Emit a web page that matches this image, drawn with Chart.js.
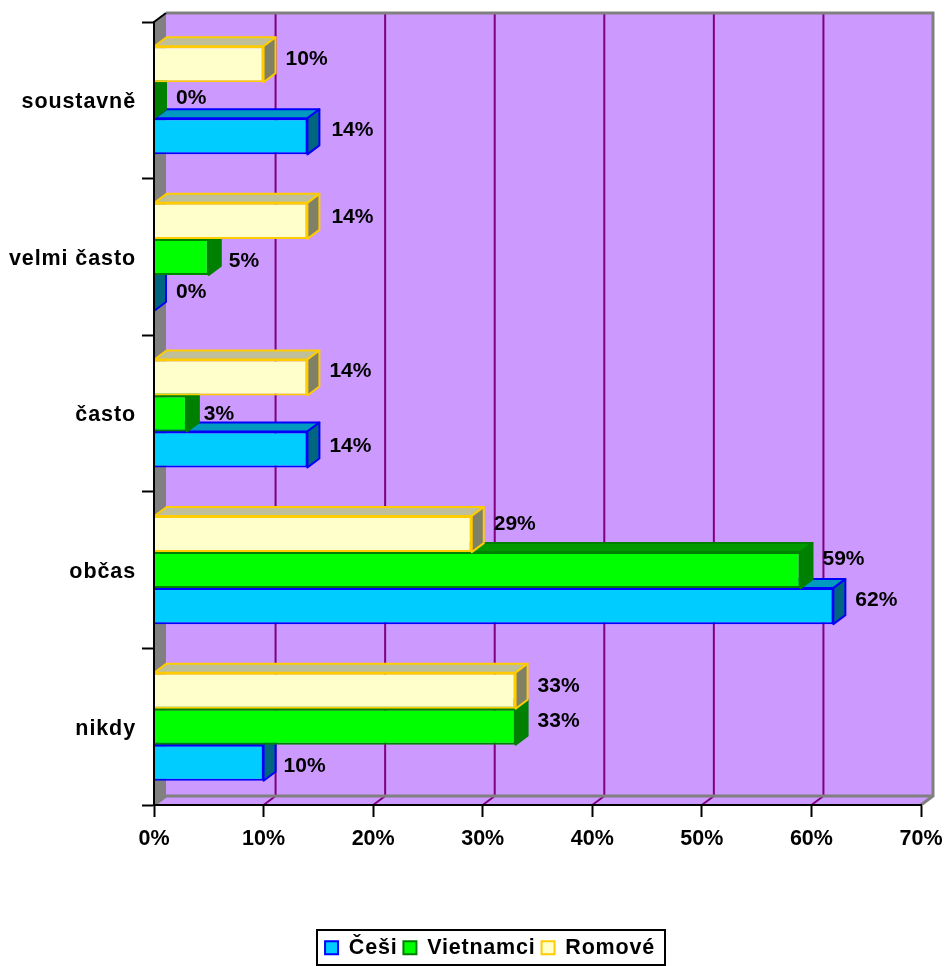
<!DOCTYPE html>
<html>
<head>
<meta charset="utf-8">
<style>
  html, body { margin: 0; padding: 0; background: #fff; overflow: hidden; }
  canvas { display: block; }
</style>
<script src="https://cdn.jsdelivr.net/npm/chart.js@4/dist/chart.umd.min.js"></script>
</head>
<body>
<canvas id="graf" width="946" height="966"></canvas>
<script>
// Data
const categories = ['soustavně', 'velmi často', 'často', 'občas', 'nikdy'];
const ceskoValues = [14, 0, 14, 62, 10];
const vietnamValues = [0, 5, 3, 59, 33];
const romoveValues = [10, 14, 14, 29, 33];
const xTicks = [0, 10, 20, 30, 40, 50, 60, 70];

// Barvy: [přední, horní, boční, okraj]
const ceskoColors = ['#00CCFF', '#0099BF', '#006680', '#0000FF'];
const vietnamColors = ['#00FF00', '#009900', '#008000', '#008000'];
const romoveColors = ['#FFFFCC', '#BFBF99', '#808066', '#FFCC00'];

// Hloubka 3D
const DX = 12;
const DY = 9;
const FONT_FAMILY = '"Liberation Sans", Arial, sans-serif';

// Ruční posun popisků: dataset -> kategorie -> [x, y]
const labelNudge = {
  Romové: [[0, -7], [2, -5], [0, -8], [0, -11], [0, -6]],
  Vietnamci: [[0, -4], [-2, 3], [-5, -1], [0, -12], [0, -7]],
  Češi: [[2, -8], [0, -2], [0, -5], [0, -7], [-2, 2]]
};

function withSpacing(obj, name, spacing, shiftY) {
  const orig = obj[name];
  obj[name] = function () {
    const ctx = this.ctx;
    ctx.save();
    ctx.letterSpacing = spacing;
    if (shiftY) ctx.translate(0, shiftY);
    const res = orig.apply(this, arguments);
    ctx.restore();
    return res;
  };
}

const chart3d = {
  id: 'chart3d',
  beforeLayout(chart) {
    if (chart.$spaced) return;
    chart.$spaced = true;
    withSpacing(chart.legend, 'fit', '0.8px');
    withSpacing(chart.legend, 'draw', '0.8px');
    withSpacing(chart.scales.y, 'drawLabels', '0.9px', 2);
  },
  afterLayout(chart) {
    // Legenda je v rámečku mimo střed grafu
    chart.legend.left = 298;
    chart.legend.right = 682;
    chart.legend.top = 931;
    chart.legend.bottom = 966;
  },
  beforeDraw(chart) {
    // Stěny a podlaha
    const { ctx, chartArea: a } = chart;
    const xs = chart.scales.x;
    ctx.save();
    ctx.fillStyle = '#CC99FF';
    ctx.fillRect(a.left + DX, a.top - DY, a.width, a.height);
    ctx.beginPath();
    ctx.moveTo(a.left, a.bottom);
    ctx.lineTo(a.right, a.bottom);
    ctx.lineTo(a.right + DX, a.bottom - DY);
    ctx.lineTo(a.left + DX, a.bottom - DY);
    ctx.closePath();
    ctx.fill();
    ctx.fillStyle = '#808080';
    ctx.beginPath();
    ctx.moveTo(a.left, a.top);
    ctx.lineTo(a.left + DX, a.top - DY);
    ctx.lineTo(a.left + DX, a.bottom - DY);
    ctx.lineTo(a.left, a.bottom);
    ctx.closePath();
    ctx.fill();

    // Mřížka
    ctx.lineWidth = 2;
    ctx.strokeStyle = '#800080';
    xTicks.slice(1, -1).forEach(t => {
      const x = xs.getPixelForValue(t);
      ctx.beginPath();
      ctx.moveTo(x, a.bottom);
      ctx.lineTo(x + DX, a.bottom - DY);
      ctx.lineTo(x + DX, a.top - DY);
      ctx.stroke();
    });

    // Okraje stěny
    ctx.strokeStyle = '#808080';
    ctx.lineWidth = 3;
    ctx.beginPath();
    ctx.moveTo(a.left + DX, a.top - DY);
    ctx.lineTo(a.right + DX, a.top - DY);
    ctx.lineTo(a.right + DX, a.bottom - DY);
    ctx.lineTo(a.right, a.bottom);
    ctx.moveTo(a.right + DX, a.bottom - DY);
    ctx.lineTo(a.left + DX, a.bottom - DY);
    ctx.lineTo(a.left, a.bottom);
    ctx.stroke();
    ctx.strokeStyle = '#000';
    ctx.lineWidth = 2;
    ctx.beginPath();
    ctx.moveTo(a.left, a.top);
    ctx.lineTo(a.left + DX, a.top - DY);
    ctx.stroke();
    ctx.restore();
  },
  beforeDatasetDraw(chart, args) {
    // Horní a boční strana sloupce
    const { ctx } = chart;
    const colors = chart.data.datasets[args.index].faces;
    ctx.save();
    ctx.lineWidth = 2;
    ctx.lineJoin = 'round';
    ctx.strokeStyle = colors[3];
    args.meta.data.forEach(bar => {
      const { x, y, base, height } = bar.getProps(['x', 'y', 'base', 'height']);
      const top = y - height / 2;
      const bottom = y + height / 2;
      ctx.fillStyle = colors[1];
      ctx.beginPath();
      ctx.moveTo(base, top);
      ctx.lineTo(base + DX, top - DY);
      ctx.lineTo(x + DX, top - DY);
      ctx.lineTo(x, top);
      ctx.closePath();
      ctx.fill();
      ctx.stroke();
      ctx.fillStyle = colors[2];
      ctx.beginPath();
      ctx.moveTo(x, top);
      ctx.lineTo(x + DX, top - DY);
      ctx.lineTo(x + DX, bottom - DY);
      ctx.lineTo(x, bottom);
      ctx.closePath();
      ctx.fill();
      ctx.stroke();
    });
    ctx.restore();
  },
  afterDatasetsDraw(chart) {
    // Popisky hodnot
    const { ctx } = chart;
    ctx.save();
    ctx.font = 'bold 21px ' + FONT_FAMILY;
    ctx.fillStyle = '#000';
    ctx.textBaseline = 'middle';
    chart.data.datasets.forEach((ds, i) => {
      chart.getDatasetMeta(i).data.forEach((bar, j) => {
        const nudge = labelNudge[ds.label][j];
        ctx.fillText(ds.data[j] + '%', bar.x + 22 + nudge[0], bar.y + 1.5 + nudge[1]);
      });
    });
    ctx.restore();
  },
  afterDraw(chart) {
    // Rámeček legendy
    const { ctx } = chart;
    ctx.save();
    ctx.lineWidth = 2;
    ctx.strokeStyle = '#000';
    ctx.strokeRect(317, 930, 348, 35);
    ctx.restore();
  }
};

function makeDataset(label, values, colors) {
  return {
    label: label,
    data: values,
    faces: colors,
    backgroundColor: colors[0],
    borderColor: colors[3],
    borderWidth: 2,
    categoryPercentage: 0.69,
    barPercentage: 1
  };
}

new Chart(document.getElementById('graf'), {
  type: 'bar',
  data: {
    labels: categories,
    datasets: [
      makeDataset('Romové', romoveValues, romoveColors),
      makeDataset('Vietnamci', vietnamValues, vietnamColors),
      makeDataset('Češi', ceskoValues, ceskoColors)
    ]
  },
  plugins: [chart3d],
  options: {
    indexAxis: 'y',
    responsive: false,
    animation: false,
    layout: { padding: { top: 22, right: 25, left: 0, bottom: 0 } },
    plugins: {
      tooltip: { enabled: false },
      legend: {
        position: 'bottom',
        reverse: true,
        labels: {
          color: '#000',
          boxWidth: 13,
          boxHeight: 13,
          padding: 6,
          font: { family: FONT_FAMILY, size: 21.5, weight: 'bold' }
        }
      }
    },
    scales: {
      x: {
        min: 0,
        max: 70,
        afterFit(scale) {
          scale.height = 123.5;
          scale.paddingLeft = 0;
          scale.paddingRight = 0;
        },
        afterBuildTicks(scale) { scale.ticks = xTicks.map(v => ({ value: v })); },
        grid: { drawOnChartArea: false, tickLength: 12, tickColor: '#000', tickWidth: 2 },
        border: { color: '#000', width: 2, z: 1 },
        ticks: {
          color: '#000',
          padding: 9,
          maxRotation: 0,
          font: { family: FONT_FAMILY, size: 21.5, weight: 'bold' },
          callback: v => v + '%'
        }
      },
      y: {
        afterFit(scale) { scale.width = 154; },
        grid: { drawOnChartArea: false, tickLength: 12, tickColor: '#000', tickWidth: 2 },
        border: { color: '#000', width: 2, z: 1 },
        ticks: {
          color: '#000',
          padding: 6,
          font: { family: FONT_FAMILY, size: 21.5, weight: 'bold' }
        }
      }
    }
  }
});
</script>
</body>
</html>
